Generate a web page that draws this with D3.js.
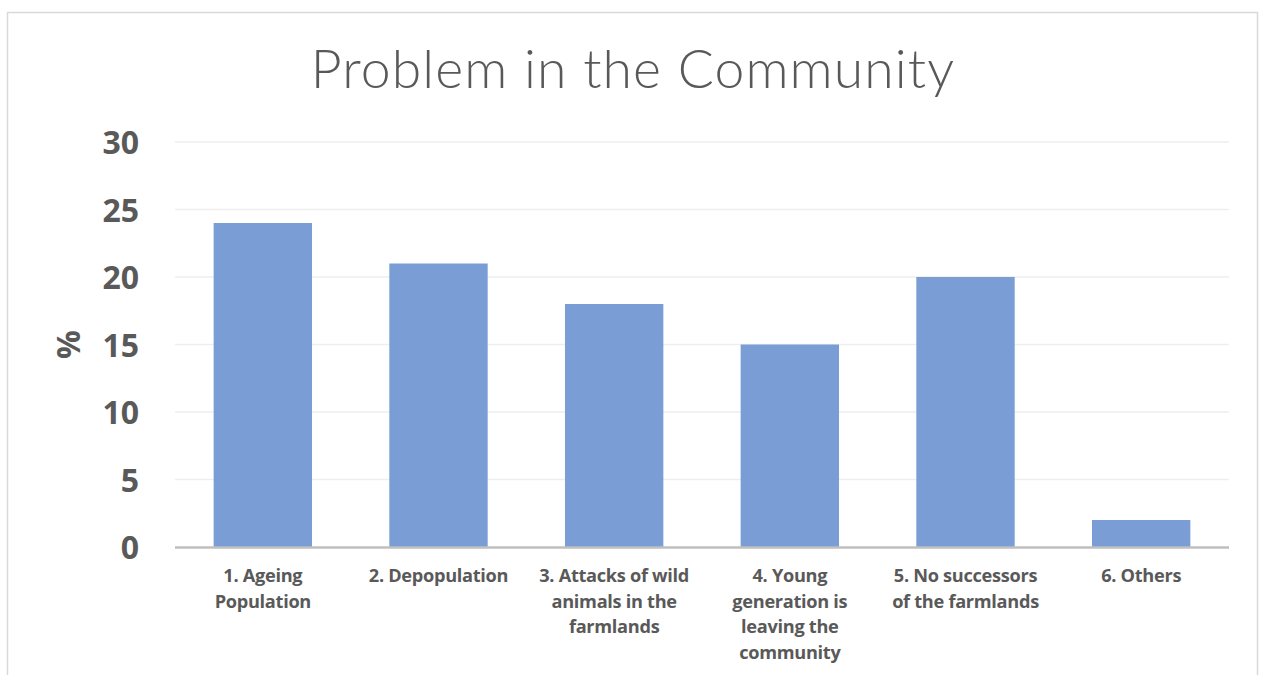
<!DOCTYPE html>
<html>
<head>
<meta charset="utf-8">
<script src="https://cdn.jsdelivr.net/npm/d3@7"></script>
<style>
  html, body { margin: 0; padding: 0; background: #fff; }
  svg { display: block; }
</style>
</head>
<body>
<svg id="chart" width="1263" height="675"></svg>
<script>
// Survey results: share of respondents naming each problem (%)
const categories = [
  ["1. Ageing", "Population"],
  ["2. Depopulation"],
  ["3. Attacks of wild", "animals in the", "farmlands"],
  ["4. Young", "generation is", "leaving the", "community"],
  ["5. No successors", "of the farmlands"],
  ["6. Others"]
];
const values = [24, 21, 18, 15, 20, 2];
const yTicks = [0, 5, 10, 15, 20, 25, 30];
const titleText = "Problem in the Community";
const yLabel = "%";

const svg = d3.select("#chart");
const textColor = "#595959";

// chart frame
svg.append("rect")
  .attr("x", 7.5).attr("y", 12.5)
  .attr("width", 1250).attr("height", 700)
  .attr("fill", "#fff")
  .attr("stroke", "#d9d9d9").attr("stroke-width", 1.5);

const plot = { left: 175, right: 1229, top: 142, bottom: 547 };

const x = d3.scaleBand()
  .domain(d3.range(categories.length))
  .range([plot.left, plot.right])
  .paddingInner(0.44)
  .paddingOuter(0.22);

const y = d3.scaleLinear()
  .domain([0, 30])
  .range([plot.bottom, plot.top]);

// horizontal gridlines
svg.append("g")
  .selectAll("line")
  .data(yTicks.filter(t => t > 0))
  .join("line")
  .attr("x1", plot.left).attr("x2", plot.right)
  .attr("y1", d => y(d)).attr("y2", d => y(d))
  .attr("stroke", "#eeeeee").attr("stroke-width", 1.5);

// y axis labels
const yAxis = d3.axisLeft(y).tickValues(yTicks).tickSize(0).tickPadding(0);
const yg = svg.append("g")
  .attr("transform", `translate(${plot.left - 36},0)`)
  .call(yAxis);
yg.select(".domain").remove();
yg.selectAll("text")
  .attr("fill", textColor)
  .attr("font-family", "'Open Sans', sans-serif")
  .attr("font-weight", 700)
  .attr("font-size", 32)
  .attr("dy", "0.36em");

// y axis title
svg.append("text")
  .attr("transform", `translate(80,${y(15)}) rotate(-90)`)
  .attr("text-anchor", "middle")
  .attr("fill", textColor)
  .attr("font-family", "'Open Sans', sans-serif")
  .attr("font-weight", 700)
  .attr("font-size", 32)
  .text(yLabel);

// bars
svg.append("g")
  .selectAll("rect")
  .data(values)
  .join("rect")
  .attr("x", (d, i) => x(i))
  .attr("y", d => y(d))
  .attr("width", x.bandwidth())
  .attr("height", d => y(0) - y(d))
  .attr("fill", "#7b9dd6");

// baseline
svg.append("line")
  .attr("x1", plot.left).attr("x2", plot.right)
  .attr("y1", y(0) + 0.5).attr("y2", y(0) + 0.5)
  .attr("stroke", "#bfbfbf").attr("stroke-width", 2.5);

// category labels (wrapped lines)
const xl = svg.append("g")
  .selectAll("text")
  .data(categories)
  .join("text")
  .attr("text-anchor", "middle")
  .attr("fill", textColor)
  .attr("font-family", "'Open Sans', sans-serif")
  .attr("font-weight", 700)
  .attr("font-size", 18.2)
  .attr("letter-spacing", -0.3)
  .attr("transform", (d, i) => `translate(${x(i) + x.bandwidth() / 2},582)`);
xl.selectAll("tspan")
  .data(d => d)
  .join("tspan")
  .attr("x", 0)
  .attr("y", (d, i) => i * 25.6)
  .text(d => d);

// title
svg.append("text")
  .attr("x", 633).attr("y", 88)
  .attr("text-anchor", "middle")
  .attr("fill", textColor)
  .attr("font-family", "Lato, sans-serif")
  .attr("font-weight", 300)
  .attr("font-size", 53.5)
  .attr("letter-spacing", 1.1)
  .text(titleText);
</script>
</body>
</html>
